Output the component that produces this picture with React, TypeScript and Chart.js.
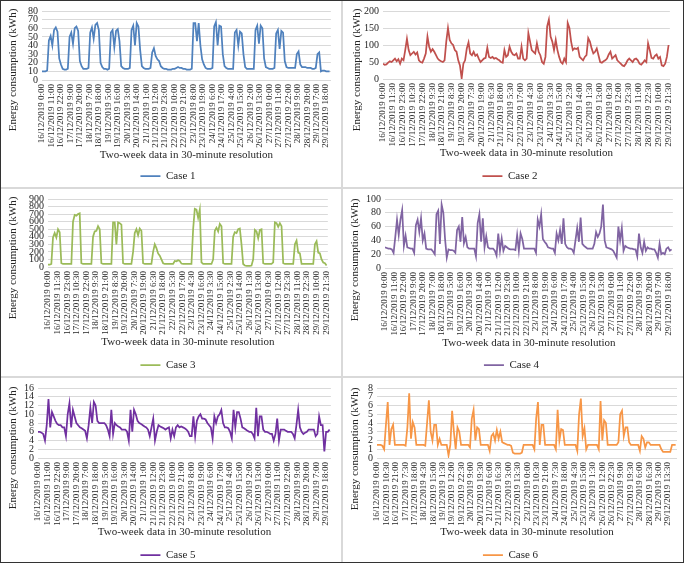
import React, { useEffect, useRef } from "react";
import { Chart, registerables } from "chart.js";

Chart.register(...registerables);

// ---- data: energy consumption sampled every 2 hours (every 4th half-hour slot) ----
const case1Values = [
  10, 10, 10, 11, 46, 51, 40, 58, 61, 56, 25, 18,
  13, 12, 12, 13, 50, 55, 42, 60, 62, 57, 22, 16,
  13, 13, 13, 14, 55, 61, 48, 64, 66, 58, 20, 15,
  13, 13, 12, 13, 55, 58, 38, 57, 59, 45, 16, 14,
  13, 13, 13, 14, 58, 63, 40, 66, 62, 35, 16, 14,
  13, 13, 13, 14, 32, 37, 28, 24, 22, 16, 14, 13,
  13, 12, 12, 12, 13, 13, 14, 15, 14, 14, 13, 13,
  12, 12, 12, 13, 66, 66, 45, 66, 40, 24, 18, 14,
  13, 13, 13, 14, 62, 67, 40, 63, 62, 30, 16, 14,
  13, 13, 13, 13, 55, 58, 40, 56, 54, 30, 15, 13,
  13, 13, 13, 13, 58, 63, 42, 63, 60, 25, 15, 14,
  13, 13, 13, 14, 54, 58, 36, 57, 55, 22, 15, 14,
  14, 14, 14, 14, 30, 33, 18, 15, 15, 15, 14, 14,
  14, 13, 13, 14, 30, 32, 10, 11, 11, 10, 10, 10,
];

const case2Values = [
  45, 42, 43, 48, 52, 50, 55, 60, 52, 58, 45, 60,
  55, 85, 118, 85, 70, 75, 80, 72, 78, 55, 50, 48,
  60, 75, 125, 95, 80, 88, 80, 70, 60, 55, 52, 50,
  55, 110, 150, 115, 105, 100, 85, 80, 55, 40, 2, 45,
  55, 90, 108, 75, 70, 80, 68, 72, 60, 50, 55, 60,
  62, 92, 65, 62, 65, 60, 62, 58, 55, 50, 48, 85,
  65, 70, 95, 80, 72, 70, 75, 60, 60, 95, 60, 55,
  60, 135, 110, 85, 80, 75, 105, 80, 70, 50, 45, 65,
  155, 175, 125, 110, 85, 115, 85, 65, 50, 45, 60, 50,
  165, 150, 110, 85, 90, 88, 92, 65, 60, 55, 65, 70,
  120, 110, 90, 75, 80, 90, 70, 50, 48, 52, 55, 60,
  72, 80, 60, 65, 70, 55, 50, 45, 40, 38, 45, 55,
  60, 55, 50, 58, 60, 55, 45, 42, 48, 55, 50, 105,
  85, 62, 60, 68, 72, 60, 65, 40, 38, 45, 65, 100,
];

const case3Values = [
  30, 30, 40, 390, 450, 390, 500, 460, 50, 40, 40, 40,
  40, 40, 40, 600, 690, 680, 700, 710, 50, 40, 40, 40,
  40, 40, 40, 400, 470, 480, 540, 500, 50, 40, 40, 40,
  40, 40, 40, 590, 590, 300, 590, 580, 560, 50, 40, 40,
  40, 40, 40, 200, 450, 500, 420, 510, 480, 50, 40, 40,
  40, 40, 40, 200, 300, 250, 180, 150, 100, 50, 40, 40,
  40, 40, 40, 40, 80, 75, 90, 80, 45, 40, 40, 40,
  40, 40, 40, 500, 770, 760, 650, 760, 60, 40, 40, 40,
  40, 40, 40, 100, 480, 520, 470, 570, 540, 50, 40, 40,
  40, 40, 40, 400, 460, 450, 500, 510, 300, 40, 20, 15,
  15, 15, 20, 100, 490, 470, 380, 490, 500, 50, 40, 40,
  40, 40, 40, 60, 590, 580, 530, 580, 540, 50, 40, 40,
  40, 40, 40, 40, 300, 350, 190, 180, 40, 40, 40, 40,
  40, 40, 40, 40, 300, 340, 190, 180, 100, 60, 50, 20,
];

const case4Values = [
  30, 29, 28, 28, 27, 22, 45, 70, 48, 70, 84, 32,
  47, 30, 29, 28, 28, 22, 62, 70, 52, 72, 40, 50,
  28, 27, 27, 27, 24, 20, 78, 83, 35, 92, 80, 42,
  15, 27, 26, 26, 25, 22, 55, 60, 38, 74, 36, 45,
  30, 28, 28, 28, 28, 17, 65, 78, 38, 72, 30, 46,
  30, 28, 28, 28, 25, 18, 50, 25, 43, 25, 32, 30,
  28, 27, 27, 27, 26, 48, 25, 50, 42, 28, 28, 28,
  28, 28, 28, 28, 22, 70, 60, 78, 42, 38, 35, 30,
  29, 28, 28, 22, 50, 40, 55, 35, 72, 35, 30, 28,
  28, 27, 22, 40, 58, 38, 73, 35, 32, 30, 28, 28,
  28, 28, 35, 52, 45, 50, 60, 92, 40, 30, 29, 28,
  27, 25, 20, 15, 60, 40, 58, 25, 32, 30, 29, 28,
  28, 27, 27, 17, 50, 30, 22, 38, 25, 30, 28, 28,
  27, 27, 22, 15, 35, 20, 22, 20, 28, 30, 25, 27,
];

const case5Values = [
  6, 6, 5.8, 5.5, 4, 7.5, 13.5, 7, 10.5, 9.5, 8.5, 7.8,
  7.5, 7.5, 7, 7, 5, 10, 12.5, 7, 11, 9.5, 8, 7.5,
  7, 6.8, 6.5, 6.2, 4.5, 7.5, 11.5, 8, 12.8, 12, 8.5, 8,
  8, 8, 8, 7.5, 6.5, 5, 11, 5.5, 8, 7.5, 7.2, 7,
  6.5, 6.5, 6.5, 6, 4, 11, 6, 11, 10, 8.5, 8, 7.8,
  7.5, 7.2, 7, 6.5, 5, 7, 9, 4, 6, 7.5, 7.2, 7,
  6.8, 6.5, 6.8, 7, 4.5, 6.5, 5, 7, 7.5, 7, 7.2, 7,
  6.8, 6.5, 6, 5, 5, 9.5, 5, 8.5, 9.5, 10, 9, 9,
  8.8, 8, 7.5, 7, 4.5, 9.5, 8, 9.5, 10, 11, 8, 7,
  7, 6.8, 6, 4.5, 11, 7, 10.5, 10.5, 9, 7, 6.8, 6.5,
  6.2, 6, 6, 5.5, 4.5, 11.5, 5, 9.5, 9.5, 6.5, 6, 6,
  5.8, 5.5, 5.5, 4, 5.5, 9, 4, 6.5, 6.5, 6.5, 6.2, 6,
  6, 6, 5.5, 4.5, 7.5, 11, 7, 6, 5.5, 5.8, 6, 6.5,
  6.5, 6.5, 6.5, 5, 5.5, 9.5, 7.5, 7.5, 1.5, 6, 6, 6.5,
];

const case6Values = [
  1.5, 1.5, 1.5, 1.4, 1, 3.8, 6.4, 1.5, 3.3, 3.8, 1.5, 1.5,
  1.5, 1.5, 1.5, 1.5, 1.4, 3.5, 7.4, 2.2, 4.1, 3.5, 1.5, 1.5,
  1.5, 1.5, 1.5, 1.4, 4, 6.6, 3, 2, 3.8, 3.8, 1.5, 2.2,
  1.5, 1.5, 1.5, 1.5, 0.3, 1.5, 5.4, 3, 1, 3.5, 3, 1.5,
  1.5, 1.5, 1.5, 1.5, 1.2, 4.5, 5.5, 2, 3.5, 3.3, 1.5, 1.5,
  1.5, 1.5, 1.5, 0.8, 2.5, 2.8, 2, 3.2, 2.2, 3, 1.8, 1.7,
  1.6, 1.5, 1.5, 1.4, 0.6, 0.5, 0.5, 0.5, 0.5, 0.6, 1.5, 1.5,
  1.5, 1.5, 1.5, 1.5, 1, 4.5, 6.4, 1.5, 3.8, 3.8, 1.5, 1.5,
  1.5, 1.5, 1.5, 1.5, 1, 5.5, 2, 3.3, 3.2, 1.5, 1.5, 1.5,
  1.5, 1.5, 1.5, 1.5, 0.8, 5, 6.8, 2.5, 3.4, 1, 1.5, 1.5,
  1.5, 1.5, 1.5, 1.5, 1, 6.5, 2, 4.3, 4, 1.5, 1.5, 1.5,
  1.5, 1.5, 1.5, 1.8, 5, 5.4, 2.5, 3.5, 3.5, 1.8, 1.5, 1.5,
  1.5, 1.5, 1.5, 0.8, 2.5, 2.2, 1.2, 1.8, 1.8, 1.5, 1.5, 1.5,
  1.5, 1.5, 1.5, 1, 0.7, 0.7, 0.7, 0.7, 0.7, 1.5, 1.5, 1.5,
];

const seriesNames = ["Case 1", "Case 2", "Case 3", "Case 4", "Case 5", "Case 6"];
const yMaxima = [80, 200, 900, 100, 16, 8];
const yStepSizes = [10, 50, 100, 20, 2, 1];
// spacing (in half-hour slots) between consecutive category labels on each x axis
const labelSpacings = [22, 23, 23, 22, 22, 21];

const TOTAL_SLOTS = 672; // 14 days x 48 half-hours
const SLOTS_PER_SAMPLE = 4; // samples are 2 hours apart
const START_DAY = 16;

function slotLabel(slot: number): string {
  const day = START_DAY + Math.floor(slot / 48);
  const mins = (slot % 48) * 30;
  const h = Math.floor(mins / 60);
  const m = mins % 60;
  return `${day}/12/2019 ${h}:${m === 0 ? "00" : "30"}`;
}

function labelSlots(spacing: number): number[] {
  const out: number[] = [];
  for (let s = 0; s < TOTAL_SLOTS; s += spacing) out.push(s);
  return out;
}

const case1Ticks = labelSlots(labelSpacings[0]);
const case2Ticks = labelSlots(labelSpacings[1]);
const case3Ticks = labelSlots(labelSpacings[2]);
const case4Ticks = labelSlots(labelSpacings[3]);
const case5Ticks = labelSlots(labelSpacings[4]);
const case6Ticks = labelSlots(labelSpacings[5]);

// ---- layout / style (separate from data) ----
const FONT = '"Liberation Serif", "Times New Roman", serif';
const TEXT = "#262626";
const GRID = "#D9D9D9";

type Panel = {
  values: number[];
  ticks: number[];
  idx: number;
  color: string;
  box: [number, number, number, number];
  plot: [number, number, number, number]; // left, top, right, bottom in canvas px
  xTitleY: number;
  legendY: number;
  yTitle: [number, number];
};

const panels: Panel[] = [
  { values: case1Values, ticks: case1Ticks, idx: 0, color: "#4F81BD", box: [0, 0, 342, 188], plot: [41, 9, 334, 79], xTitleY: 154, legendY: 175, yTitle: [12, 69] },
  { values: case2Values, ticks: case2Ticks, idx: 1, color: "#C0504D", box: [342, 0, 342, 188], plot: [40, 8, 334, 78], xTitleY: 152, legendY: 175, yTitle: [14, 69] },
  { values: case3Values, ticks: case3Ticks, idx: 2, color: "#9BBB59", box: [0, 188, 342, 189], plot: [47, 8, 334, 78], xTitleY: 153, legendY: 176, yTitle: [12, 69] },
  { values: case4Values, ticks: case4Ticks, idx: 3, color: "#8064A2", box: [342, 188, 342, 189], plot: [42, 9, 337, 79], xTitleY: 154, legendY: 176, yTitle: [12, 71] },
  { values: case5Values, ticks: case5Ticks, idx: 4, color: "#7030A0", box: [0, 377, 342, 186], plot: [37, 10, 334, 80], xTitleY: 154, legendY: 177, yTitle: [12, 70] },
  { values: case6Values, ticks: case6Ticks, idx: 5, color: "#F79646", box: [342, 377, 342, 186], plot: [34, 9, 335, 80], xTitleY: 154, legendY: 177, yTitle: [12, 71] },
];

const yTitlePlugin = {
  id: "yTitleText",
  afterDraw(chart: any, _args: any, opts: any) {
    const ctx = chart.ctx;
    ctx.save();
    ctx.translate(opts.x, opts.y);
    ctx.rotate(-Math.PI / 2);
    ctx.font = `11px ${FONT}`;
    ctx.fillStyle = TEXT;
    ctx.textAlign = "center";
    ctx.textBaseline = "middle";
    ctx.fillText(opts.text, 0, 0);
    ctx.restore();
  },
};

function PanelChart({ p }: { p: Panel }) {
  const ref = useRef<HTMLCanvasElement | null>(null);
  const cw = p.box[2] - 2;
  const ch = p.box[3] - 2;

  useEffect(() => {
    if (!ref.current) return;
    const [pl, pt, pr, pb] = p.plot;
    const legendPad = 3;
    const legendTop = p.legendY - legendPad - 5.5;
    const legendHeight = ch - legendTop;
    const xHeight = legendTop - pb;
    const xTitlePadBottom = legendTop - p.xTitleY - 6.6;

    const chart = new Chart(ref.current, {
      type: "line",
      data: {
        datasets: [
          {
            label: seriesNames[p.idx],
            data: p.values.map((v, i) => ({ x: i * SLOTS_PER_SAMPLE, y: v })),
            borderColor: p.color,
            backgroundColor: p.color,
            borderWidth: 1.75,
            pointRadius: 0,
            tension: 0,
            fill: false,
          },
        ],
      },
      options: {
        animation: false,
        responsive: false,
        layout: { padding: { left: 0, top: pt, right: cw - pr, bottom: 0 } },
        plugins: {
          tooltip: { enabled: false },
          legend: {
            position: "bottom",
            maxHeight: legendHeight,
            labels: {
              usePointStyle: true,
              pointStyle: "line",
              pointStyleWidth: 20,
              padding: legendPad,
              color: TEXT,
              font: { family: FONT, size: 11 },
            },
          },
          yTitleText: { text: "Energy consumption (kWh)", x: p.yTitle[0], y: p.yTitle[1] },
        } as any,
        scales: {
          x: {
            type: "linear",
            min: 0,
            max: TOTAL_SLOTS - 1,
            grid: { display: false, drawTicks: false },
            border: { display: true, color: GRID },
            afterBuildTicks: (scale: any) => {
              scale.ticks = p.ticks.map((v) => ({ value: v }));
            },
            afterFit: (scale: any) => {
              scale.height = xHeight;
            },
            ticks: {
              autoSkip: false,
              maxRotation: 90,
              minRotation: 90,
              padding: 4,
              color: TEXT,
              font: { family: FONT, size: 9 },
              callback: (v: any) => slotLabel(Number(v)),
            },
            title: {
              display: true,
              text: "Two-week data in 30-minute resolution",
              color: TEXT,
              font: { family: FONT, size: 11 },
              padding: { top: 0, bottom: xTitlePadBottom },
            },
          },
          y: {
            min: 0,
            max: yMaxima[p.idx],
            grid: { color: GRID, drawTicks: false },
            border: { display: false },
            afterFit: (scale: any) => {
              scale.width = pl;
            },
            ticks: {
              stepSize: yStepSizes[p.idx],
              autoSkip: false,
              padding: 4,
              color: TEXT,
              font: { family: FONT, size: 10 },
            },
          },
        },
      } as any,
      plugins: [yTitlePlugin],
    });
    return () => chart.destroy();
  }, [p, cw, ch]);

  return (
    <div
      style={{
        position: "absolute",
        left: p.box[0],
        top: p.box[1],
        width: p.box[2],
        height: p.box[3],
        border: `1px solid ${GRID}`,
        boxSizing: "border-box",
        background: "#fff",
      }}
    >
      <canvas ref={ref} width={cw} height={ch} style={{ display: "block", width: cw, height: ch }} />
    </div>
  );
}

export default function App() {
  useEffect(() => {
    document.body.style.margin = "0";
    document.body.style.background = "#fff";
  }, []);
  return (
    <div style={{ position: "relative", width: 685, height: 564, background: "#fff" }}>
      {panels.map((p) => (
        <PanelChart key={p.idx} p={p} />
      ))}
      <div
        style={{
          position: "absolute",
          left: 0,
          top: 0,
          width: 684,
          height: 563,
          border: "1px solid #333",
          boxSizing: "border-box",
          pointerEvents: "none",
        }}
      />
    </div>
  );
}
